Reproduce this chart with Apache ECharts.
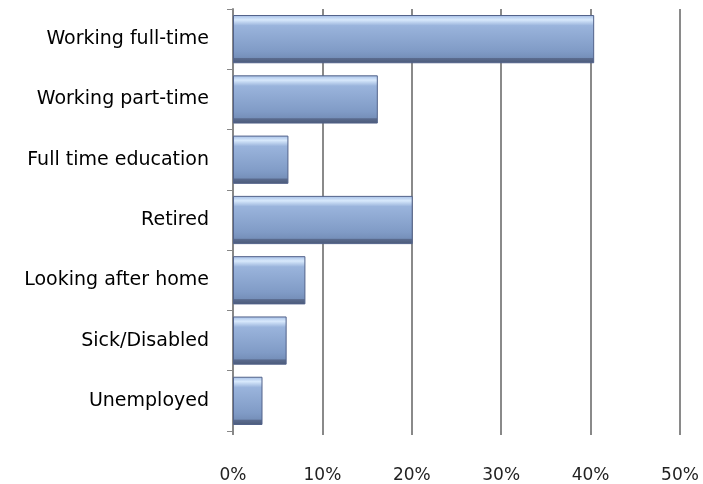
<!DOCTYPE html>
<html>
<head>
<meta charset="utf-8">
<script src="https://cdn.jsdelivr.net/npm/echarts@6/dist/echarts.min.js"></script>
<style>
  html, body { margin: 0; padding: 0; background: #fff; }
  #chart { width: 703px; height: 484px; }
</style>
</head>
<body>
<div id="chart"></div>
<script>
var categories = ['Working full-time', 'Working part-time', 'Full time education', 'Retired',
  'Looking after home', 'Sick/Disabled', 'Unemployed'];
var shares = [40.4, 16.2, 6.2, 20.1, 8.1, 6.0, 3.3];
var tickValues = [0, 10, 20, 30, 40, 50];

var chart = echarts.init(document.getElementById('chart'));

// bevelled blue look of the bars
var barFill = new echarts.graphic.LinearGradient(0, 0, 0, 1, [
  { offset: 0, color: '#a3bde5' },
  { offset: 0.1, color: '#d8e9fc' },
  { offset: 0.22, color: '#9ab4dc' },
  { offset: 0.75, color: '#809bc6' },
  { offset: 0.88, color: '#7690ba' },
  { offset: 0.9, color: '#5a6b8e' },
  { offset: 1, color: '#4b5a78' }
]);

var option = {
  animation: false,
  grid: { left: 233, right: 23, top: 9, bottom: 53 },
  xAxis: {
    type: 'value',
    min: tickValues[0],
    max: tickValues[tickValues.length - 1],
    interval: 10,
    axisLine: { show: false },
    axisTick: { show: true, length: 4, lineStyle: { color: '#888', width: 2 } },
    splitLine: { show: true, lineStyle: { color: '#8a8a8a', width: 2 } },
    axisLabel: {
      margin: 36,
      color: '#222',
      fontFamily: 'DejaVu Sans',
      fontSize: 17,
      formatter: '{value}%'
    }
  },
  yAxis: {
    type: 'category',
    data: categories,
    inverse: true,
    axisLine: { show: true, lineStyle: { color: '#888', width: 2 } },
    axisTick: { show: true, length: 6, lineStyle: { color: '#888', width: 1 } },
    axisLabel: {
      margin: 24,
      color: '#000',
      fontFamily: 'DejaVu Sans',
      fontSize: 19
    }
  },
  series: [{
    type: 'bar',
    data: shares,
    barCategoryGap: '20%',
    itemStyle: {
      color: barFill,
      borderColor: '#52628a',
      borderWidth: 1
    }
  }]
};

chart.setOption(option);
</script>
</body>
</html>
